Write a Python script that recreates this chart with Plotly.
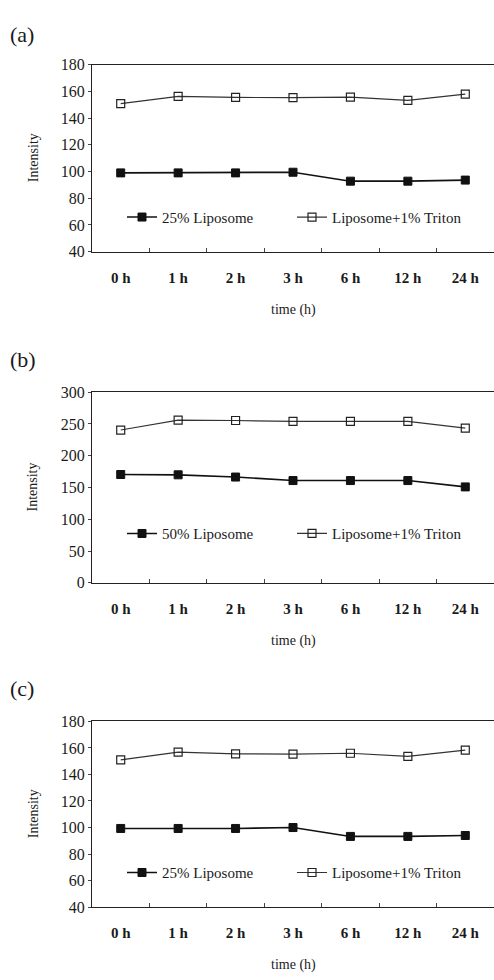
import plotly.graph_objects as go

categories = ["0 h", "1 h", "2 h", "3 h", "6 h", "12 h", "24 h"]

a_lipo = [99, 99, 99, 99.5, 92.8, 92.8, 93.6]
a_triton = [150.8, 156.3, 155.5, 155.3, 155.7, 153.3, 157.9]

b_lipo = [170.5, 170, 166.5, 161, 161, 161, 151]
b_triton = [240.5, 256, 255.5, 254, 254, 254, 243.5]

c_lipo = [99.3, 99.3, 99.3, 100, 93.3, 93.3, 94]
c_triton = [151, 156.8, 155.6, 155.3, 156, 153.6, 158.3]

panel_labels = ["(a)", "(b)", "(c)"]
lipo_names = ["25% Liposome", "50% Liposome", "25% Liposome"]
triton_name = "Liposome+1% Triton"
yranges = [[40, 180], [0, 300], [40, 180]]
ydticks = [20, 50, 20]

W, H = 494, 980
FONT = "Liberation Serif"
TXT = "#1a1a1a"

# pixel geometry of panels (top, bottom)
panels_px = [(57.7, 248), (391, 585), (726, 915)]
legend_px = [213, 535, 880]
left_px = 92
labels_px = [27, 358, 693]

def py(p):
    return 1 - p / H

fig = go.Figure()
series = [(a_lipo, a_triton), (b_lipo, b_triton), (c_lipo, c_triton)]
annotations = []
for i, (lipo, trit) in enumerate(series):
    n = "" if i == 0 else str(i + 1)
    xa, ya = "x" + n, "y" + n
    lg = "legend" + n
    fig.add_trace(go.Scatter(
        x=categories, y=lipo, mode="lines+markers", name=lipo_names[i],
        xaxis=xa, yaxis=ya, legend=lg,
        line=dict(color="#111111", width=1.6),
        marker=dict(symbol="square", size=8, color="#111111",
                    line=dict(color="#111111", width=1))))
    fig.add_trace(go.Scatter(
        x=categories, y=trit, mode="lines+markers", name=triton_name,
        xaxis=xa, yaxis=ya, legend=lg,
        line=dict(color="#333333", width=1.2),
        marker=dict(symbol="square-open", size=8, color="#222222",
                    line=dict(width=1.2))))
    top, bot = panels_px[i]
    fig.layout["xaxis" + n] = dict(
        domain=[left_px / W, 1.0], anchor=ya, type="category",
        showline=True, linecolor="#222222", linewidth=1.3, mirror=True,
        showgrid=False, zeroline=False,
        tickson="boundaries", ticks="inside", ticklen=4, tickcolor="#444",
        ticklabelstandoff=12, range=[-0.5, 6.5],
        tickfont=dict(family=FONT, size=15, color=TXT, weight="bold"))
    fig.layout["yaxis" + n] = dict(
        domain=[py(bot), py(top)], anchor=xa,
        showline=True, linecolor="#222222", linewidth=1.3, mirror=False,
        showgrid=False, zeroline=False,
        range=yranges[i], dtick=ydticks[i], ticks="outside", ticklen=3,
        tickcolor="#444", tickfont=dict(family=FONT, size=16, color=TXT))
    fig.layout[lg] = dict(
        orientation="h", x=122 / W, y=py(legend_px[i]),
        xanchor="left", yanchor="middle", bgcolor="rgba(0,0,0,0)",
        font=dict(family=FONT, size=15, color=TXT), entrywidth=125,
        itemwidth=30)
    annotations.append(dict(text=panel_labels[i], x=8 / W, y=py(labels_px[i]),
                            xref="paper", yref="paper", xanchor="left",
                            yanchor="middle", showarrow=False,
                            font=dict(family=FONT, size=22, color=TXT)))
    annotations.append(dict(text="Intensity", x=33 / W, y=py((top + bot) / 2),
                            xref="paper", yref="paper", textangle=-90,
                            xanchor="center", yanchor="middle", showarrow=False,
                            font=dict(family=FONT, size=14, color=TXT)))
    annotations.append(dict(text="time (h)", x=293 / W, y=py(bot + 59),
                            xref="paper", yref="paper", xanchor="center",
                            yanchor="middle", showarrow=False,
                            font=dict(family=FONT, size=14, color=TXT)))

fig.update_layout(width=W, height=H, margin=dict(l=0, r=0, t=0, b=0),
                  paper_bgcolor="white", plot_bgcolor="white",
                  annotations=annotations, showlegend=True)

fig.write_html("out.html")
